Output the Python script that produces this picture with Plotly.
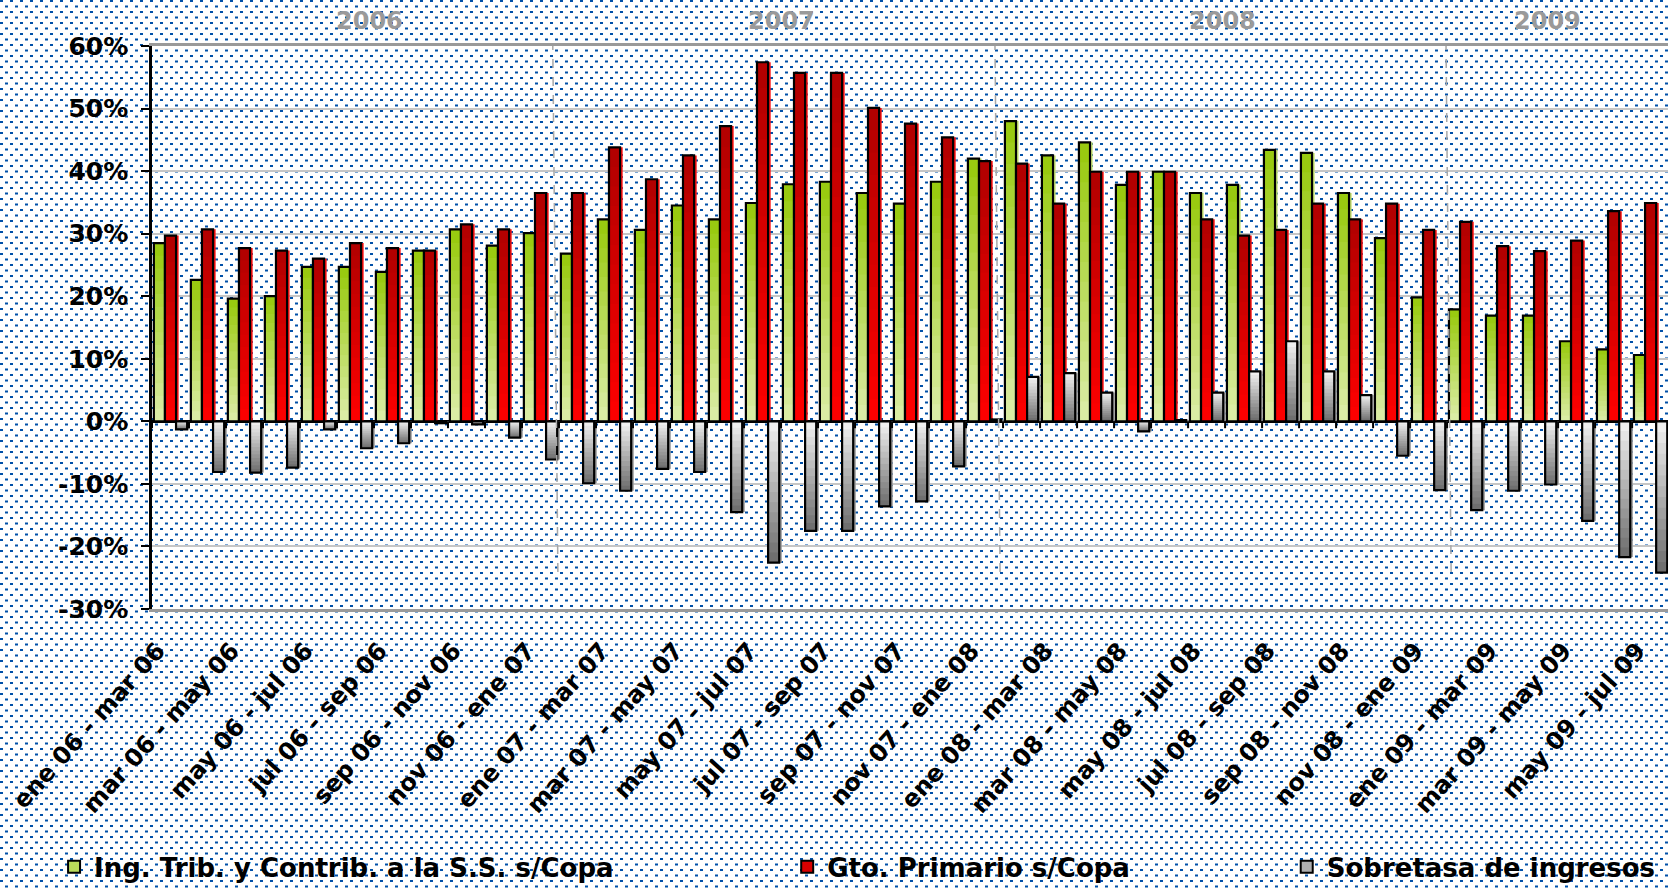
import base64
import plotly.graph_objects as go

# rolling three-month periods, one bar group each
categories = [
    "ene 06 - mar 06", "feb 06 - abr 06", "mar 06 - may 06", "abr 06 - jun 06",
    "may 06 - jul 06", "jun 06 - ago 06", "jul 06 - sep 06", "ago 06 - oct 06",
    "sep 06 - nov 06", "oct 06 - dic 06", "nov 06 - ene 07", "dic 06 - feb 07",
    "ene 07 - mar 07", "feb 07 - abr 07", "mar 07 - may 07", "abr 07 - jun 07",
    "may 07 - jul 07", "jun 07 - ago 07", "jul 07 - sep 07", "ago 07 - oct 07",
    "sep 07 - nov 07", "oct 07 - dic 07", "nov 07 - ene 08", "dic 07 - feb 08",
    "ene 08 - mar 08", "feb 08 - abr 08", "mar 08 - may 08", "abr 08 - jun 08",
    "may 08 - jul 08", "jun 08 - ago 08", "jul 08 - sep 08", "ago 08 - oct 08",
    "sep 08 - nov 08", "oct 08 - dic 08", "nov 08 - ene 09", "dic 08 - feb 09",
    "ene 09 - mar 09", "feb 09 - abr 09", "mar 09 - may 09", "abr 09 - jun 09",
    "may 09 - jul 09",
]

ing_trib = [28.5, 22.6, 19.6, 20.0, 24.7, 24.7, 23.9, 27.3, 30.7, 28.1, 30.1,
            26.8, 32.3, 30.6, 34.5, 32.3, 34.9, 37.9, 38.3, 36.5, 34.8, 38.3,
            42.0, 48.0, 42.5, 44.6, 37.8, 39.9, 36.5, 37.8, 43.4, 42.9, 36.5,
            29.3, 19.8, 17.9, 16.9, 16.9, 12.8, 11.5, 10.6]

gto_primario = [29.7, 30.7, 27.7, 27.3, 26.0, 28.5, 27.7, 27.3, 31.5, 30.7, 36.5,
                36.5, 43.8, 38.7, 42.5, 47.2, 57.4, 55.7, 55.7, 50.1, 47.6, 45.4,
                41.6, 41.2, 34.8, 39.9, 39.9, 39.9, 32.3, 29.7, 30.6, 34.8, 32.3,
                34.8, 30.6, 31.9, 28.0, 27.2, 28.9, 33.6, 34.9]

sobretasa = [-1.3, -8.1, -8.2, -7.4, -1.3, -4.3, -3.5, -0.3, -0.5, -2.6, -6.1,
             -9.9, -11.1, -7.6, -8.1, -14.5, -22.6, -17.5, -17.5, -13.6, -12.8, -7.2,
             0.3, 7.1, 7.7, 4.6, -1.6, 0.2, 4.6, 8.0, 12.8, 8.0, 4.2,
             -5.5, -11.0, -14.2, -11.1, -10.1, -15.9, -21.7, -24.2]

years = ["2006", "2007", "2008", "2009"]
year_pos = [5.39, 16.52, 28.44, 37.22]
year_sep = [10.33, 22.28, 34.47]

y_ticks = [-30, -20, -10, 0, 10, 20, 30, 40, 50, 60]
y_ticktext = ["-30%", "-20%", "-10%", "0%", "10%", "20%", "30%", "40%", "50%", "60%"]

x = list(range(len(categories)))
FONT = "DejaVu Sans"


def mix(c1, c2, t):
    a = [int(c1[i:i + 2], 16) for i in (1, 3, 5)]
    b = [int(c2[i:i + 2], 16) for i in (1, 3, 5)]
    return "rgb(%d,%d,%d)" % tuple(round(a[j] + (b[j] - a[j]) * t) for j in range(3))


# name, values, offset, colour at top, colour at bottom, shadow, legend
series = [
    ("Ing. Trib. y Contrib. a la S.S. s/Copa", ing_trib, -0.45, "#97c90a", "#dcedaa", "#c4e070", "legend"),
    ("Gto. Primario s/Copa", gto_primario, -0.15, "#b00000", "#ff0000", "#ff1010", "legend2"),
    ("Sobretasa de ingresos", sobretasa, 0.15, "#f4f4f4", "#6a6a6a", "#9a9a9a", "legend3"),
]

fig = go.Figure()
N = 14
W = 0.3
for name, vals, off, top, bot, shad, leg in series:
    fig.add_trace(go.Bar(x=x, y=vals, offset=off + 0.07, width=W, showlegend=False,
                         marker=dict(color=shad, line=dict(width=0))))
    # stepped gradient: shorter bars drawn over longer ones
    for k in range(N):
        f = (N - k - 0.5) / N
        ys = [v * (N - k) / N for v in vals]
        cols = [mix(bot, top, f) if v >= 0 else mix(top, bot, f) for v in vals]
        fig.add_trace(go.Bar(x=x, y=ys, offset=off, width=W, showlegend=False,
                             marker=dict(color=cols, line=dict(width=0))))
    fig.add_trace(go.Bar(x=x, y=vals, offset=off, width=W, showlegend=False,
                         marker=dict(color="rgba(0,0,0,0)", line=dict(color="black", width=2.2))))
    fig.add_trace(go.Bar(x=[x[0]], y=[None], name=name, legend=leg, offset=off, width=W,
                         marker=dict(color=mix(top, bot, 0.5), line=dict(color="black", width=2))))

# small tick marks on the zero line, one per category boundary
shapes = [dict(type="line", xref="x", yref="y", x0=i - 0.5, x1=i - 0.5, y0=0, y1=-1.1,
               line=dict(color="black", width=2)) for i in range(len(categories) + 1)]
for s in year_sep:
    shapes.append(dict(type="line", xref="x", yref="y", x0=s, x1=s + 0.14, y0=60.8, y1=-24.5,
                       line=dict(color="#a8a8a8", width=1.5, dash="dash")))

annotations = [dict(x=p, y=1.044, xref="x", yref="paper", text=t, showarrow=False,
                    xanchor="center", yanchor="middle",
                    font=dict(family=FONT, size=24, color="#9a9a9a", weight="bold"))
               for t, p in zip(years, year_pos)]

# dotted blue background
svg = ('<svg xmlns="http://www.w3.org/2000/svg" width="1668" height="891">'
       '<defs><pattern id="p" width="10" height="11" patternUnits="userSpaceOnUse">'
       '<rect x="0" y="0" width="3" height="2" fill="#0050a8"/>'
       '<rect x="5" y="5.5" width="3" height="2" fill="#0050a8"/>'
       '</pattern></defs><rect width="100%" height="100%" fill="white"/>'
       '<rect width="100%" height="100%" fill="url(#p)"/></svg>')
src = "data:image/svg+xml;base64," + base64.b64encode(svg.encode()).decode()

L, T, B = 152, 46, 282
PW, PH = 1668 - L, 891 - T - B

legfont = dict(family=FONT, size=26, color="black", weight="bold")
leg_common = dict(y=-0.458, xanchor="left", yanchor="middle", bgcolor="rgba(0,0,0,0)",
                  font=legfont, itemclick=False)

# labels sit a little to the left of their group, as in the original
label_pos = [i - 0.35 for i in x[::2]]

fig.update_layout(
    width=1668, height=891,
    margin=dict(l=L, r=0, t=T, b=B, pad=0),
    paper_bgcolor="white", plot_bgcolor="rgba(0,0,0,0)",
    barmode="overlay",
    hovermode=False,
    shapes=shapes,
    annotations=annotations,
    images=[dict(source=src, xref="paper", yref="paper", x=-L / PW, y=1 + T / PH,
                 sizex=1668 / PW, sizey=891 / PH, sizing="stretch", layer="below",
                 xanchor="left", yanchor="top")],
    legend=dict(x=-0.0646, **leg_common),
    legend2=dict(x=0.419, **leg_common),
    legend3=dict(x=0.7485, **leg_common),
    xaxis=dict(range=[-0.5, 40.47], tickvals=label_pos, ticktext=categories[::2],
               tickangle=-48, showgrid=False, zeroline=False,
               showline=True, linecolor="#9a9a9a", linewidth=3, mirror=True,
               ticklabelstandoff=15,
               tickfont=dict(family=FONT, size=24, color="black", weight="bold")),
    yaxis=dict(range=[-30, 60], tickvals=y_ticks, ticktext=y_ticktext,
               showgrid=True, gridcolor="#c6c6c6", gridwidth=1.5,
               zeroline=True, zerolinecolor="black", zerolinewidth=2.5,
               showline=True, linecolor="black", linewidth=2.5,
               ticks="outside", ticklen=8, tickwidth=2, tickcolor="black",
               ticklabelstandoff=8,
               tickfont=dict(family=FONT, size=25, color="black", weight="bold")),
)

fig.write_html("out.html", config={"displayModeBar": False},
               post_script="document.body.style.margin='0';")
